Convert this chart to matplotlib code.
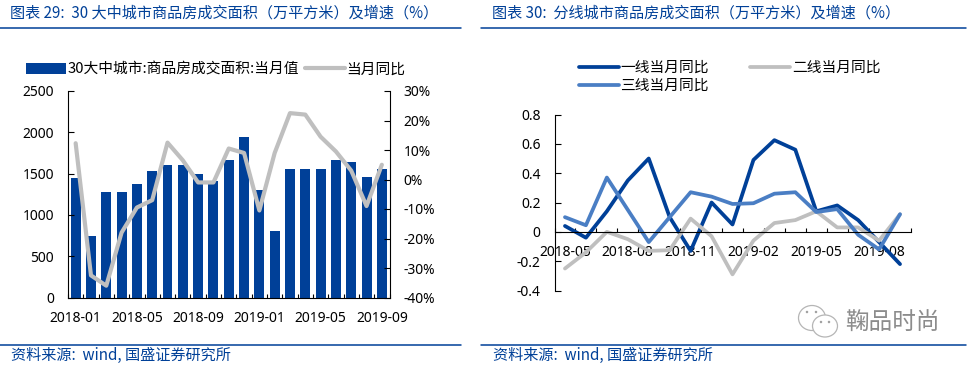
import numpy as np
import matplotlib
matplotlib.use('Agg')
import matplotlib.pyplot as plt
from matplotlib.lines import Line2D
from matplotlib.patches import Ellipse

plt.rcParams['font.family'] = ['Noto Sans', 'Noto Sans CJK SC']
plt.rcParams['lines.solid_capstyle'] = 'round'

W, H = 972, 366
BLUE = '#004098'
GREY = '#BFBFBF'
LIGHT = '#4A7EC4'
CJK = ['Noto Sans CJK SC', 'DejaVu Sans']

# left chart
months1 = ['2018-01', '2018-02', '2018-03', '2018-04', '2018-05', '2018-06', '2018-07',
           '2018-08', '2018-09', '2018-10', '2018-11', '2018-12', '2019-01', '2019-02',
           '2019-03', '2019-04', '2019-05', '2019-06', '2019-07', '2019-08', '2019-09']
area = [1450, 740, 1280, 1280, 1370, 1530, 1600, 1610, 1500, 1410, 1670, 1940, 1300, 810,
        1560, 1550, 1560, 1670, 1640, 1460, 1560]
area_yoy = [12.3, -32.5, -36, -18, -9.5, -7, 12.5, 6.5, -1, -1, 10.5, 9, -10.5, 9,
            22.5, 22, 14.5, 9.5, 3, -9, 5]

# right chart
months2 = ['2018-05', '2018-06', '2018-07', '2018-08', '2018-09', '2018-10', '2018-11',
           '2018-12', '2019-01', '2019-02', '2019-03', '2019-04', '2019-05', '2019-06',
           '2019-07', '2019-08', '2019-09']
tier1 = [0.04, -0.04, 0.14, 0.35, 0.50, 0.10, -0.13, 0.20, 0.05, 0.49, 0.625, 0.56,
         0.14, 0.18, 0.08, -0.07, -0.22]
tier2 = [-0.25, -0.14, 0.0, -0.05, -0.13, -0.125, 0.09, -0.03, -0.29, -0.06, 0.06, 0.08,
         0.14, 0.03, 0.03, -0.06, 0.12]
tier3 = [0.10, 0.045, 0.37, 0.15, -0.07, 0.10, 0.27, 0.24, 0.19, 0.195, 0.26, 0.27,
         0.135, 0.155, -0.02, -0.12, 0.12]

title1 = '图表 29:  30 大中城市商品房成交面积（万平方米）及增速（%）'
title2 = '图表 30:  分线城市商品房成交面积（万平方米）及增速（%）'
source = '资料来源:  wind, 国盛证券研究所'


def px_axes(fig, x0, y0, x1, y1):
    return fig.add_axes([x0 / W, 1 - y1 / H, (x1 - x0) / W, (y1 - y0) / H])


def hline(fig, x0, x1, y):
    fig.add_artist(Line2D([x0 / W, x1 / W], [1 - y / H, 1 - y / H], color=BLUE, lw=1.1))


def ftext(fig, x, y, s, **kw):
    fig.text(x / W, 1 - y / H, s, va='center', **kw)


def bubble(fig, cx, cy, w, h, **kw):
    fig.add_artist(Ellipse((cx / W, 1 - cy / H), w / W, h / H, transform=fig.transFigure, **kw))


def cat_ticks(ax, labels, step):
    n = len(labels)
    ax.set_xlim(-0.5, n - 0.5)
    ax.set_xticks(np.arange(0, n, step))
    ax.set_xticklabels(labels[::step])
    ax.set_xticks(np.arange(-0.5, n), minor=True)
    ax.tick_params(axis='x', which='major', length=0, pad=9.5, labelsize=10)
    ax.tick_params(axis='x', which='minor', direction='in', length=3.2, width=0.8)


fig = plt.figure(figsize=(W / 100, H / 100), dpi=100)

hline(fig, 0, 461, 28)
hline(fig, 481, 966, 28)
hline(fig, 0, 461, 345)
hline(fig, 481, 966, 345)
ftext(fig, 10, 13, title1, color=BLUE, fontsize=10.9, family=CJK)
ftext(fig, 492, 13, title2, color=BLUE, fontsize=10.9, family=CJK)
ftext(fig, 11, 355, source, color=BLUE, fontsize=10.9, family=CJK)
ftext(fig, 493, 355, source, color=BLUE, fontsize=10.9, family=CJK)

# left
ax = px_axes(fig, 68, 91, 389.5, 297.5)
x1 = np.arange(len(months1))
bars = ax.bar(x1, area, width=0.65, color=BLUE, label='30大中城市:商品房成交面积:当月值')
ax.set_ylim(0, 2500)
ax.set_yticks(range(0, 2501, 500))
ax.tick_params(axis='y', direction='in', length=4, width=0.8, pad=10, labelsize=10)
cat_ticks(ax, months1, 4)
ax.spines['top'].set_visible(False)
ax.spines['right'].set_visible(False)

ax2 = ax.twinx()
line, = ax2.plot(x1, area_yoy, color=GREY, lw=3, label='当月同比')
ax2.set_ylim(-40, 30)
ax2.set_yticks(range(-40, 31, 10))
ax2.set_yticklabels([f'{v}%' for v in range(-40, 31, 10)])
ax2.tick_params(axis='y', direction='in', length=4, width=0.8, pad=10, labelsize=10)
ax2.spines['top'].set_visible(False)
ax2.spines['left'].set_visible(False)
ax2.spines['bottom'].set_visible(False)
fig.legend(handles=[bars, line], ncol=2, frameon=False, loc='center left',
           bbox_to_anchor=(26 / W, 1 - 69.5 / H), handlelength=2.72,
           handletextpad=0.1, columnspacing=0.4, borderpad=0, borderaxespad=0,
           prop={'family': CJK, 'size': 10.6})

# right
ax3 = px_axes(fig, 554.5, 114.5, 910.5, 290.5)
x2 = np.arange(len(months2))
ax3.set_axisbelow(True)
l1, = ax3.plot(x2, tier1, color=BLUE, lw=2.7, label='一线当月同比')
l2, = ax3.plot(x2, tier2, color=GREY, lw=2.7, label='二线当月同比')
l3, = ax3.plot(x2, tier3, color=LIGHT, lw=2.7, label='三线当月同比')
ax3.set_ylim(-0.4, 0.8)
ax3.set_yticks([-0.4, -0.2, 0, 0.2, 0.4, 0.6, 0.8])
ax3.set_yticklabels(['-0.4', '-0.2', '0', '0.2', '0.4', '0.6', '0.8'])
ax3.tick_params(axis='y', direction='in', length=4, width=0.8, pad=10, labelsize=10)
cat_ticks(ax3, months2, 3)
ax3.spines['top'].set_visible(False)
ax3.spines['right'].set_visible(False)
ax3.spines['bottom'].set_position(('data', 0))
fig.legend(handles=[l1, l3, l2], ncol=2, frameon=False, loc='center left',
           bbox_to_anchor=(579 / W, 1 - 77 / H), handlelength=2.72,
           handletextpad=0.1, columnspacing=2.8, labelspacing=0.3, borderpad=0, borderaxespad=0,
           prop={'family': CJK, 'size': 10.6})

# watermark
grey_edge = dict(facecolor='white', edgecolor='#B5B5B5', lw=0.9)
bubble(fig, 812, 318, 27, 25, **grey_edge)
bubble(fig, 825, 326, 25, 22, **grey_edge)
for dx, dy in [(807, 312), (816, 312), (821, 322), (829, 322)]:
    bubble(fig, dx, dy, 2.5, 2.5, facecolor='#A0A0A0', edgecolor='none')
ftext(fig, 845, 323, '鞠品时尚', color='#8C8C8C', fontsize=17, family=CJK)

fig.savefig('out.png', dpi=100)
